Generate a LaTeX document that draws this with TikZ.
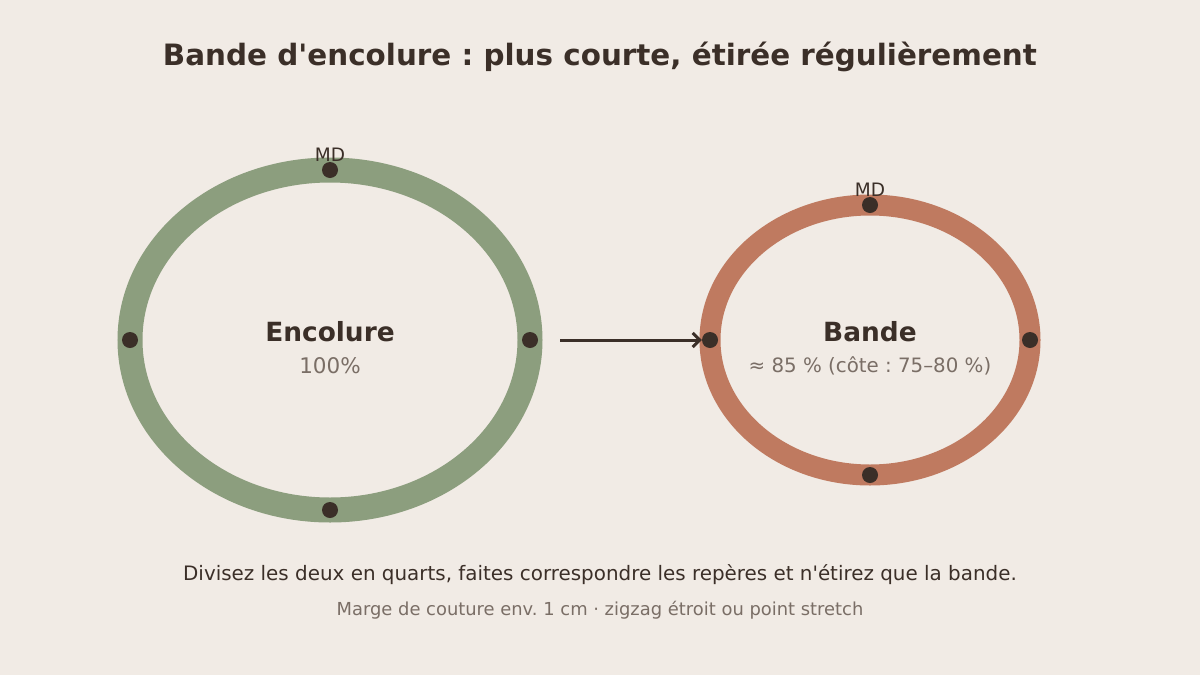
\documentclass[tikz,border=0pt]{standalone}
\usepackage{fontspec}
\setmainfont{DejaVu Sans}
\usetikzlibrary{arrows.meta}
\usetikzlibrary{calc}
\frenchspacing

\definecolor{fond}{HTML}{F1EBE5}
\definecolor{sauge}{HTML}{8C9E7E}
\definecolor{terre}{HTML}{BF7A60}
\definecolor{encre}{HTML}{3B2F28}
\definecolor{gris}{HTML}{7A6E66}

\begin{document}
\begin{tikzpicture}[x=1pt, y=-1pt, >=Stealth,
    repere/.style={circle, fill=encre, inner sep=0pt, minimum size=16pt},
    titre/.style={text=encre, font=\fontsize{29.4}{34}\selectfont\bfseries},
    nom/.style={text=encre, font=\fontsize{26.4}{31}\selectfont\bfseries},
    mesure/.style={text=gris, font=\fontsize{19.8}{24}\selectfont},
    md/.style={text=encre, font=\fontsize{18.5}{22}\selectfont}]

    % fond et cadre
    \fill[fond] (0,0) rectangle (1200,675);
    \useasboundingbox (0,0) rectangle (1200,675);

    \node[titre] (titre) at (600,57) {Bande d\textquotesingle encolure : plus courte, étirée régulièrement};

    % Encolure (100%)
    \draw[sauge, line width=25pt] (330,340) ellipse [x radius=200, y radius=170];
    \foreach \a/\n in {0/e, 90/s, 180/o, 270/n} {
        \node[repere] (enc-\n) at ($(330,340)+(\a:200 and 170)$) {};
    }
    \node[md] (enc-md) at (330,155) {MD};
    \node[nom] (enc-nom) at (330,332) {Encolure};
    \node[mesure, font=\fontsize{21.5}{26}\selectfont] (enc-pct) at (330,366) {100\%};

    % Bande (plus courte)
    \draw[terre, line width=21pt] (870,340) ellipse [x radius=160, y radius=135];
    \foreach \a/\n in {0/e, 90/s, 180/o, 270/n} {
        \node[repere] (bde-\n) at ($(870,340)+(\a:160 and 135)$) {};
    }
    \node[md] (bde-md) at (870,190) {MD};
    \node[nom] (bde-nom) at (870,332) {Bande};
    \node[mesure] (bde-pct) at (870,366) {≈ 85 \% (côte : 75–80 \%)};

    % fleche
    \coordinate (depart) at (560,340);
    \draw[encre, line width=3pt, -{Straight Barb[length=7pt, width=14pt]}] (depart) -- (bde-o);

    \node[text=encre, font=\fontsize{19.9}{24}\selectfont] (consigne) at (600,575)
        {Divisez les deux en quarts, faites correspondre les repères et n\textquotesingle étirez que la bande.};
    \node[text=gris, font=\fontsize{17.9}{22}\selectfont] (note) at (600,610)
        {Marge de couture env. 1 cm · zigzag étroit ou point stretch};

\end{tikzpicture}
\end{document}
